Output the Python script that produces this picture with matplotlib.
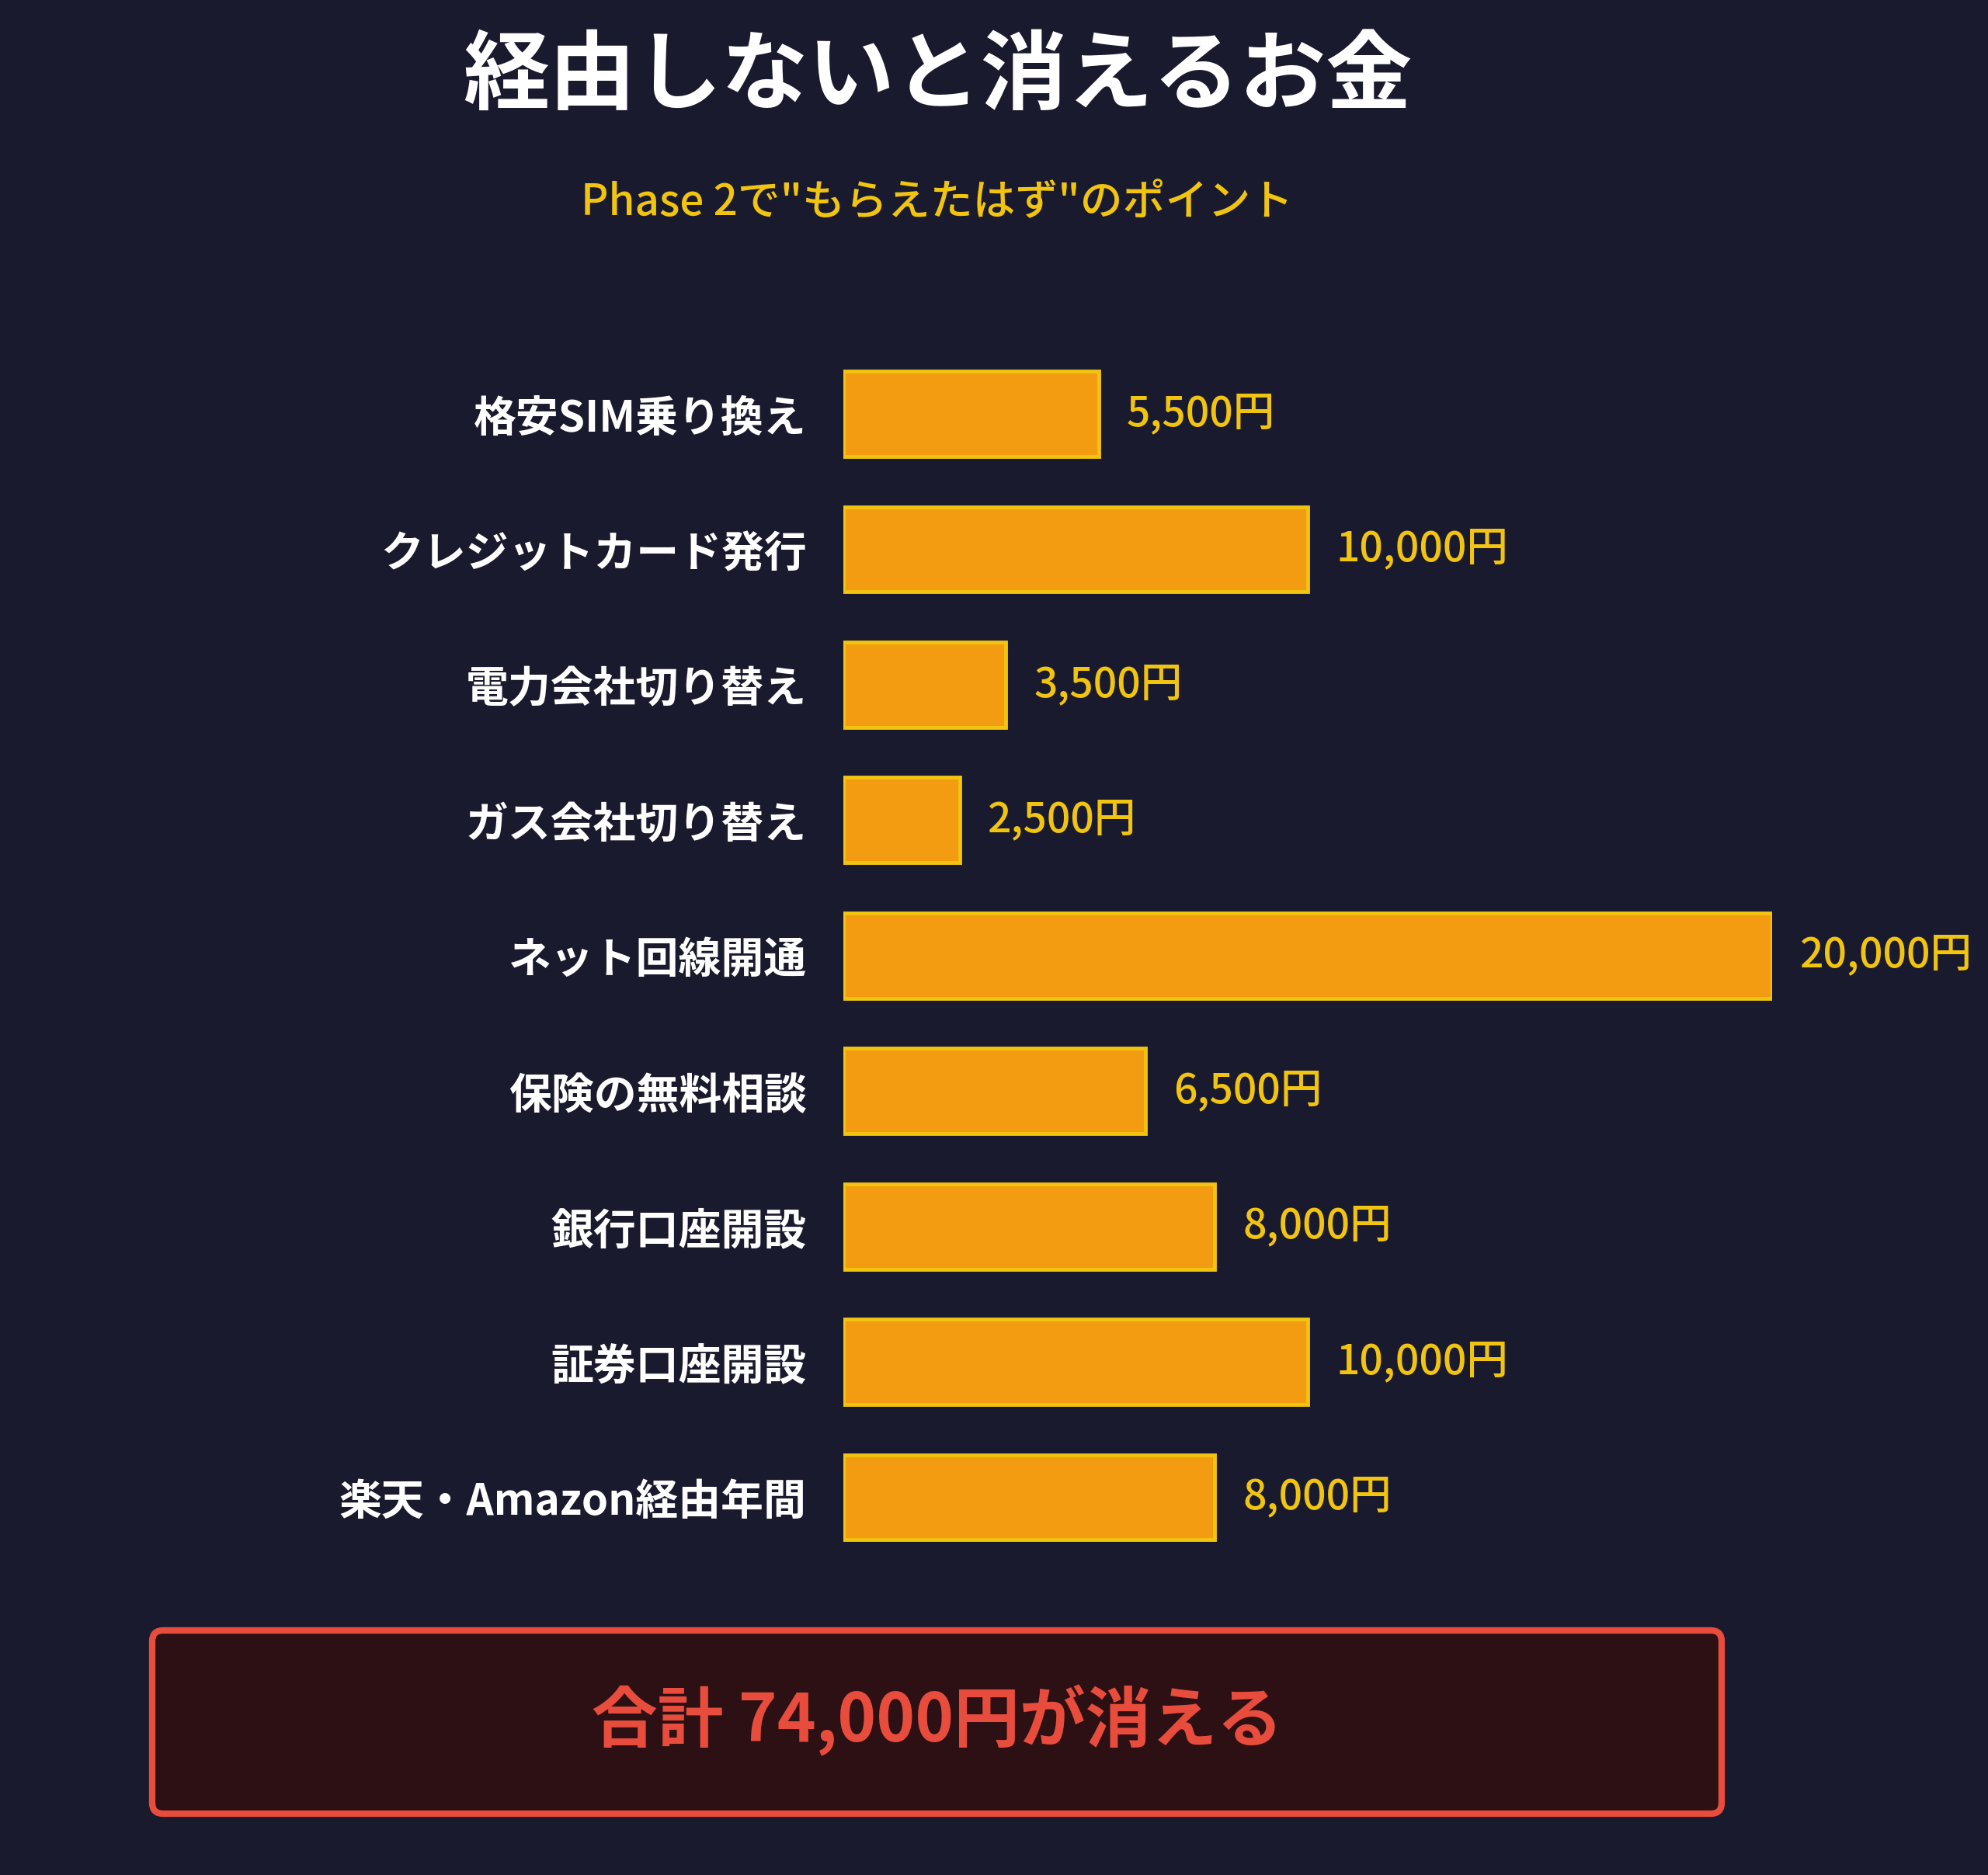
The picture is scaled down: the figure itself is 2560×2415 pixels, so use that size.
import matplotlib
matplotlib.use("Agg")
import matplotlib.pyplot as plt
from matplotlib.patches import FancyBboxPatch

plt.rcParams['font.family'] = ['Noto Sans CJK JP', 'DejaVu Sans']

categories = ["格安SIM乗り換え", "クレジットカード発行", "電力会社切り替え", "ガス会社切り替え",
              "ネット回線開通", "保険の無料相談", "銀行口座開設", "証券口座開設", "楽天・Amazon経由年間"]
values = [5500, 10000, 3500, 2500, 20000, 6500, 8000, 10000, 8000]
value_labels = ["5,500円", "10,000円", "3,500円", "2,500円", "20,000円", "6,500円", "8,000円", "10,000円", "8,000円"]
title = "経由しないと消えるお金"
subtitle = 'Phase 2で"もらえたはず"のポイント'
total_text = "合計 74,000円が消える"

BG = "#1a1a2e"
W, H = 2560, 2415
fig = plt.figure(figsize=(W / 100, H / 100), dpi=100, facecolor=BG)

# bar axes
ax_left, ax_right = 1086 / W, 2282 / W
ax_top_px, ax_bot_px = 445.8, 2015.7
ax = fig.add_axes([ax_left, 1 - ax_bot_px / H, ax_right - ax_left, (ax_bot_px - ax_top_px) / H])
ax.set_facecolor(BG)
ypos = list(range(len(categories)))
ax.barh(ypos, values, height=0.63, color="#f39c12", edgecolor="#f1c40f", linewidth=3.5)
ax.set_xlim(0, 20000)
ax.set_ylim(len(categories) - 0.5, -0.5)
ax.set_yticks(ypos)
ax.set_yticklabels(categories, fontsize=39.5, fontweight="bold", color="white")
ax.tick_params(axis="y", length=0, pad=34)
ax.set_xticks([])
for s in ax.spines.values():
    s.set_visible(False)
for y, v, lab in zip(ypos, values, value_labels):
    ax.annotate(lab, xy=(v, y), xytext=(26, 0), textcoords="offset points",
                ha="left", va="center", fontsize=38.5, fontweight="medium", color="#f1c40f",
                annotation_clip=False)

# overlay in pixel coords
ov = fig.add_axes([0, 0, 1, 1], facecolor="none")
ov.set_xlim(0, W)
ov.set_ylim(H, 0)
ov.axis("off")
ov.text(1207, 100, title, ha="center", va="center", fontsize=80, fontweight="bold", color="white")
ov.text(1207, 261, subtitle, ha="center", va="center", fontsize=39.5, fontweight="medium", color="#f1c40f")
box = FancyBboxPatch((196, 2100), 2021, 236, boxstyle="round,pad=0,rounding_size=14",
                     facecolor="#2c1014", edgecolor="#e74c3c", linewidth=6)
ov.add_patch(box)
ov.text(1207, 2216, total_text, ha="center", va="center", fontsize=61, fontweight="bold", color="#e74c3c")

fig.savefig("out.png", dpi=100, facecolor=BG)
